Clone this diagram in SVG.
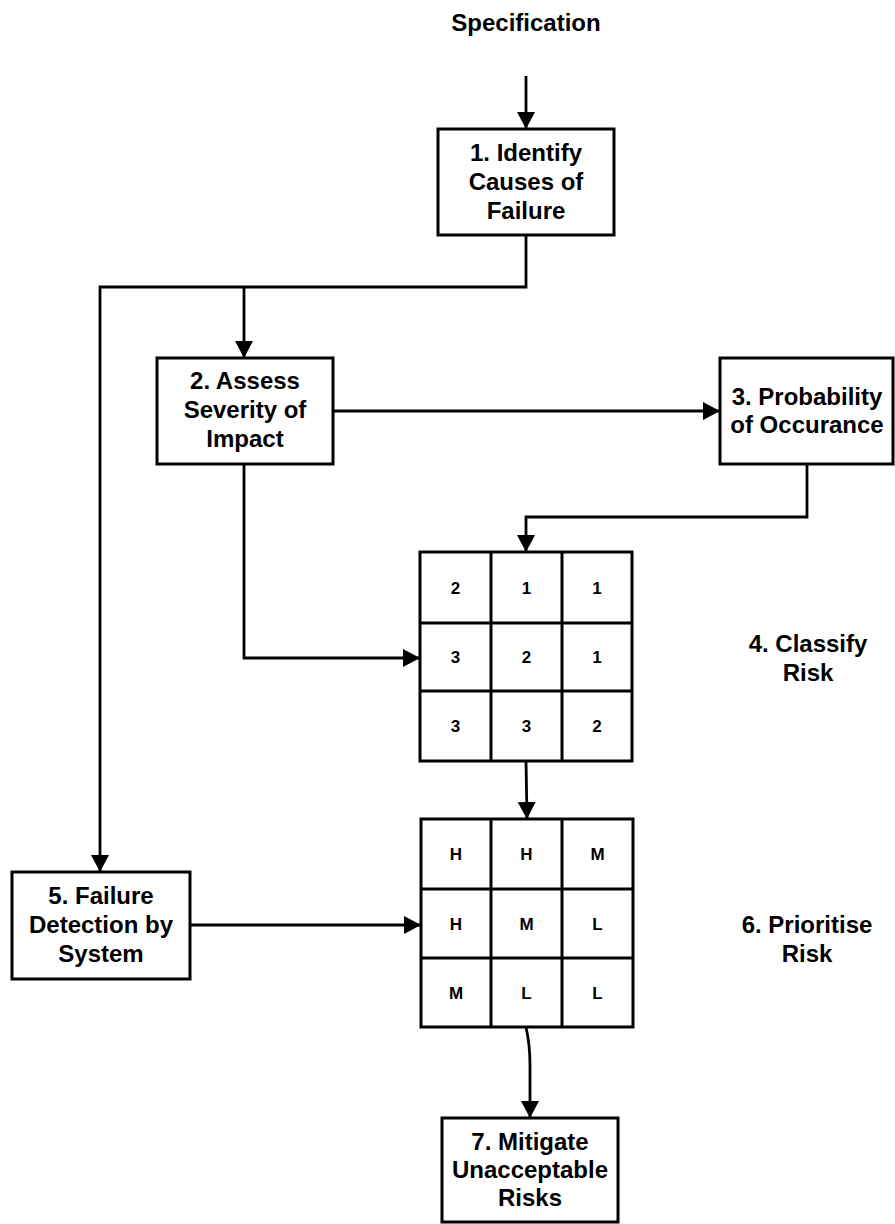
<svg xmlns="http://www.w3.org/2000/svg" width="895" height="1224" viewBox="0 0 895 1224">
<style>
.box{fill:#fff;stroke:#000;stroke-width:3}
.grid{fill:none;stroke:#000;stroke-width:3}
.t{font-family:"Liberation Sans",Arial,sans-serif;font-weight:bold;font-size:24px;text-anchor:middle;fill:#000}
.c{font-family:"Liberation Sans",Arial,sans-serif;font-weight:bold;font-size:17px;text-anchor:middle;fill:#000}
.con{fill:none;stroke:#000;stroke-width:2.8}
</style>
<defs>
<marker id="arr" markerUnits="userSpaceOnUse" markerWidth="18" markerHeight="19" refX="17" refY="9" orient="auto">
<path d="M0,0 L17,9 L0,18 z" fill="#000"/>
</marker>
</defs>
<rect width="895" height="1224" fill="#fff"/>
<g id="connectors">
<path class="con" d="M526,76 L526,129" marker-end="url(#arr)"/>
<path class="con" d="M526,235 L526,287 L100,287 L100,872" marker-end="url(#arr)"/>
<path class="con" d="M244,287 L244,358" marker-end="url(#arr)"/>
<path class="con" d="M333,411 L720,411" marker-end="url(#arr)"/>
<path class="con" d="M807,464 L807,517 L526,517 L526,552" marker-end="url(#arr)"/>
<path class="con" d="M244,464 L244,658 L420,658" marker-end="url(#arr)"/>
<path class="con" d="M526,761 L527,819" marker-end="url(#arr)"/>
<path class="con" d="M190,925 L421,925" marker-end="url(#arr)"/>
<path class="con" d="M526,1027 Q530,1045 530,1065 L530,1118" marker-end="url(#arr)"/>
</g>
<g id="spec"><text class="t" x="526" y="31">Specification</text></g>
<g id="n1">
<rect class="box" x="438" y="129" width="176" height="106"/>
<text class="t" x="526" y="161">1. Identify</text>
<text class="t" x="526" y="190">Causes of</text>
<text class="t" x="526" y="219">Failure</text>
</g>
<g id="n2">
<rect class="box" x="157" y="358" width="176" height="106"/>
<text class="t" x="245" y="389">2. Assess</text>
<text class="t" x="245" y="418">Severity of</text>
<text class="t" x="245" y="447">Impact</text>
</g>
<g id="n3">
<rect class="box" x="720" y="358" width="173" height="106"/>
<text class="t" x="807" y="405">3. Probability</text>
<text class="t" x="807" y="433">of Occurance</text>
</g>
<g id="n4grid">
<rect class="box" x="420" y="552" width="212" height="209"/>
<path class="grid" d="M491,552 V761 M562,552 V761 M420,623 H632 M420,691 H632"/>
<text class="c" x="455.5" y="594">2</text><text class="c" x="526.5" y="594">1</text><text class="c" x="597" y="594">1</text>
<text class="c" x="455.5" y="663">3</text><text class="c" x="526.5" y="663">2</text><text class="c" x="597" y="663">1</text>
<text class="c" x="455.5" y="732">3</text><text class="c" x="526.5" y="732">3</text><text class="c" x="597" y="732">2</text>
</g>
<g id="n4label">
<text class="t" x="808" y="652">4. Classify</text>
<text class="t" x="808" y="681">Risk</text>
</g>
<g id="n6grid">
<rect class="box" x="421" y="819" width="212" height="208"/>
<path class="grid" d="M491,819 V1027 M562,819 V1027 M421,889 H633 M421,958 H633"/>
<text class="c" x="456" y="860">H</text><text class="c" x="526.5" y="860">H</text><text class="c" x="597.5" y="860">M</text>
<text class="c" x="456" y="929.5">H</text><text class="c" x="526.5" y="929.5">M</text><text class="c" x="597.5" y="929.5">L</text>
<text class="c" x="456" y="998.5">M</text><text class="c" x="526.5" y="998.5">L</text><text class="c" x="597.5" y="998.5">L</text>
</g>
<g id="n6label">
<text class="t" x="807" y="933">6. Prioritise</text>
<text class="t" x="807" y="962">Risk</text>
</g>
<g id="n5">
<rect class="box" x="12" y="872" width="178" height="107"/>
<text class="t" x="101" y="904">5. Failure</text>
<text class="t" x="101" y="933">Detection by</text>
<text class="t" x="101" y="962">System</text>
</g>
<g id="n7">
<rect class="box" x="442" y="1118" width="176" height="104"/>
<text class="t" x="530" y="1150">7. Mitigate</text>
<text class="t" x="530" y="1178">Unacceptable</text>
<text class="t" x="530" y="1206">Risks</text>
</g>
</svg>
